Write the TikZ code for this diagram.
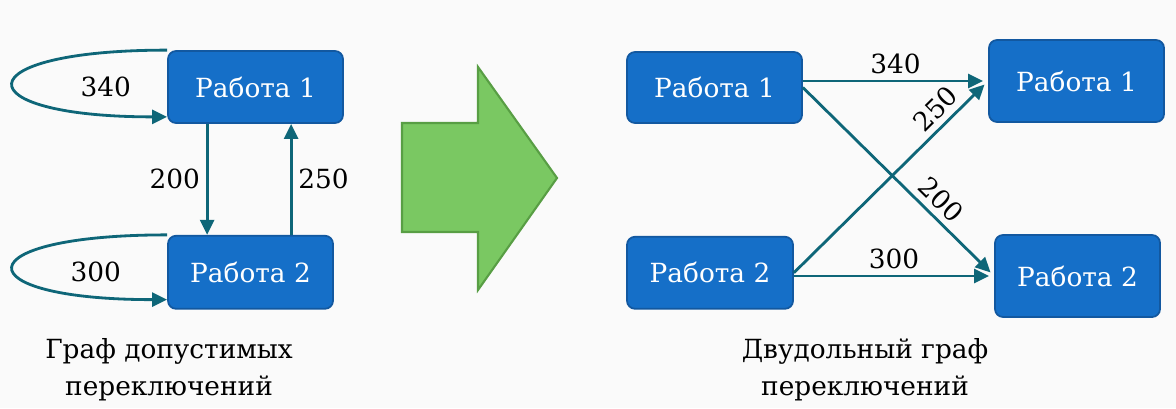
\documentclass[tikz,border=0pt]{standalone}
\usepackage{fontspec}
\setmainfont{DejaVu Serif}
\usetikzlibrary{arrows.meta,calc,positioning}
\definecolor{jobblue}{RGB}{21,111,200}
\definecolor{jobedge}{RGB}{18,88,160}
\definecolor{linkteal}{RGB}{14,102,120}
\definecolor{goodgreen}{RGB}{122,200,98}
\definecolor{goodedge}{RGB}{88,158,68}
\definecolor{paper}{RGB}{250,250,250}
\tikzset{
jobstyle/.style={
  rectangle,
  rounded corners=0.16cm,
  line width=1pt,
  draw=jobedge,
  fill=jobblue,
  text=white,
  inner sep=0pt,
  align=center,
  font=\fontsize{15}{21}\selectfont,
  }
}
\tikzset{
numstyle/.style={
  align=center,
  font=\fontsize{15}{21}\selectfont,
  }
}
\tikzset{
linkline/.style={
  line width=1.6pt,
  draw=linkteal,
  -{Triangle[length=3mm,width=2.8mm]}
  }
}

\begin{document}
\begin{tikzpicture}
    \useasboundingbox (0,0) rectangle (23.52,8.16);
    \fill[paper] (0,0) rectangle (23.52,8.16);

    % graph of allowed switches
    \node[jobstyle, minimum width=3.5cm, minimum height=1.44cm] (job1) at (5.11,6.42) {Работа 1};
    \node[jobstyle, minimum width=3.3cm, minimum height=1.46cm, below=2.22cm of job1.south west, anchor=north west] (job2) {Работа 2};
    \node[numstyle, left=0.6cm of job1] (w340) {340};
    \node[numstyle, left=0.8cm of job2] (w300) {300};
    \coordinate (down_top) at ([xshift=0.8cm]job1.south west);
    \coordinate (up_top) at ([xshift=2.48cm]job1.south west);

    % loops and switches
    \draw[linkline] (job1.north west) .. controls +(-4.1,0) and +(-4.1,0) .. ([yshift=0.14cm]job1.south west);
    \draw[linkline] (job2.north west) .. controls +(-4.1,0) and +(-4.1,0) .. ([yshift=0.2cm]job2.south west);
    \draw[linkline] (down_top) -- (down_top |- job2.north) node[midway, left, numstyle] (w200) {200};
    \draw[linkline] (up_top |- job2.north) -- (up_top) node[midway, right, numstyle] (w250) {250};

    % big arrow
    \draw[goodedge, fill=goodgreen, line width=1.2pt] (8.04,5.70) -- (9.56,5.70) -- (9.56,6.82) -- (11.14,4.60) -- (9.56,2.36) -- (9.56,3.52) -- (8.04,3.52) -- cycle;

    % bipartite graph
    \node[jobstyle, minimum width=3.5cm, minimum height=1.42cm] (src1) at (14.29,6.41) {Работа 1};
    \node[jobstyle, minimum width=3.32cm, minimum height=1.44cm, below=2.24cm of src1.south west, anchor=north west] (src2) {Работа 2};
    \node[jobstyle, minimum width=3.5cm, minimum height=1.64cm] (dst1) at (21.53,6.54) {Работа 1};
    \node[jobstyle, minimum width=3.3cm, minimum height=1.64cm] (dst2) at (21.55,2.64) {Работа 2};

    % bipartite edges
    \draw[linkline, shorten >=0.1cm] (src1.east |- dst1.west) -- (dst1.west) node[midway, above, numstyle] (b340) {340};
    \draw[linkline, shorten >=0.1cm] (src2.east |- dst2.west) -- (dst2.west) node[midway, above, numstyle] (b300) {300};
    \draw[linkline, shorten >=0.1cm] (src1.east) -- (dst2.west) node[pos=0.66, sloped, above, numstyle] (b200) {200};
    \draw[linkline, shorten >=0.1cm] (src2.east) -- (dst1.west) node[pos=0.79, sloped, above, numstyle] (b250) {250};

    % captions
    \node[numstyle] (cap_left) at (3.38,0.76) {Граф допустимых\\переключений};
    \node[numstyle] (cap_right) at (17.3,0.76) {Двудольный граф\\переключений};
\end{tikzpicture}
\end{document}
